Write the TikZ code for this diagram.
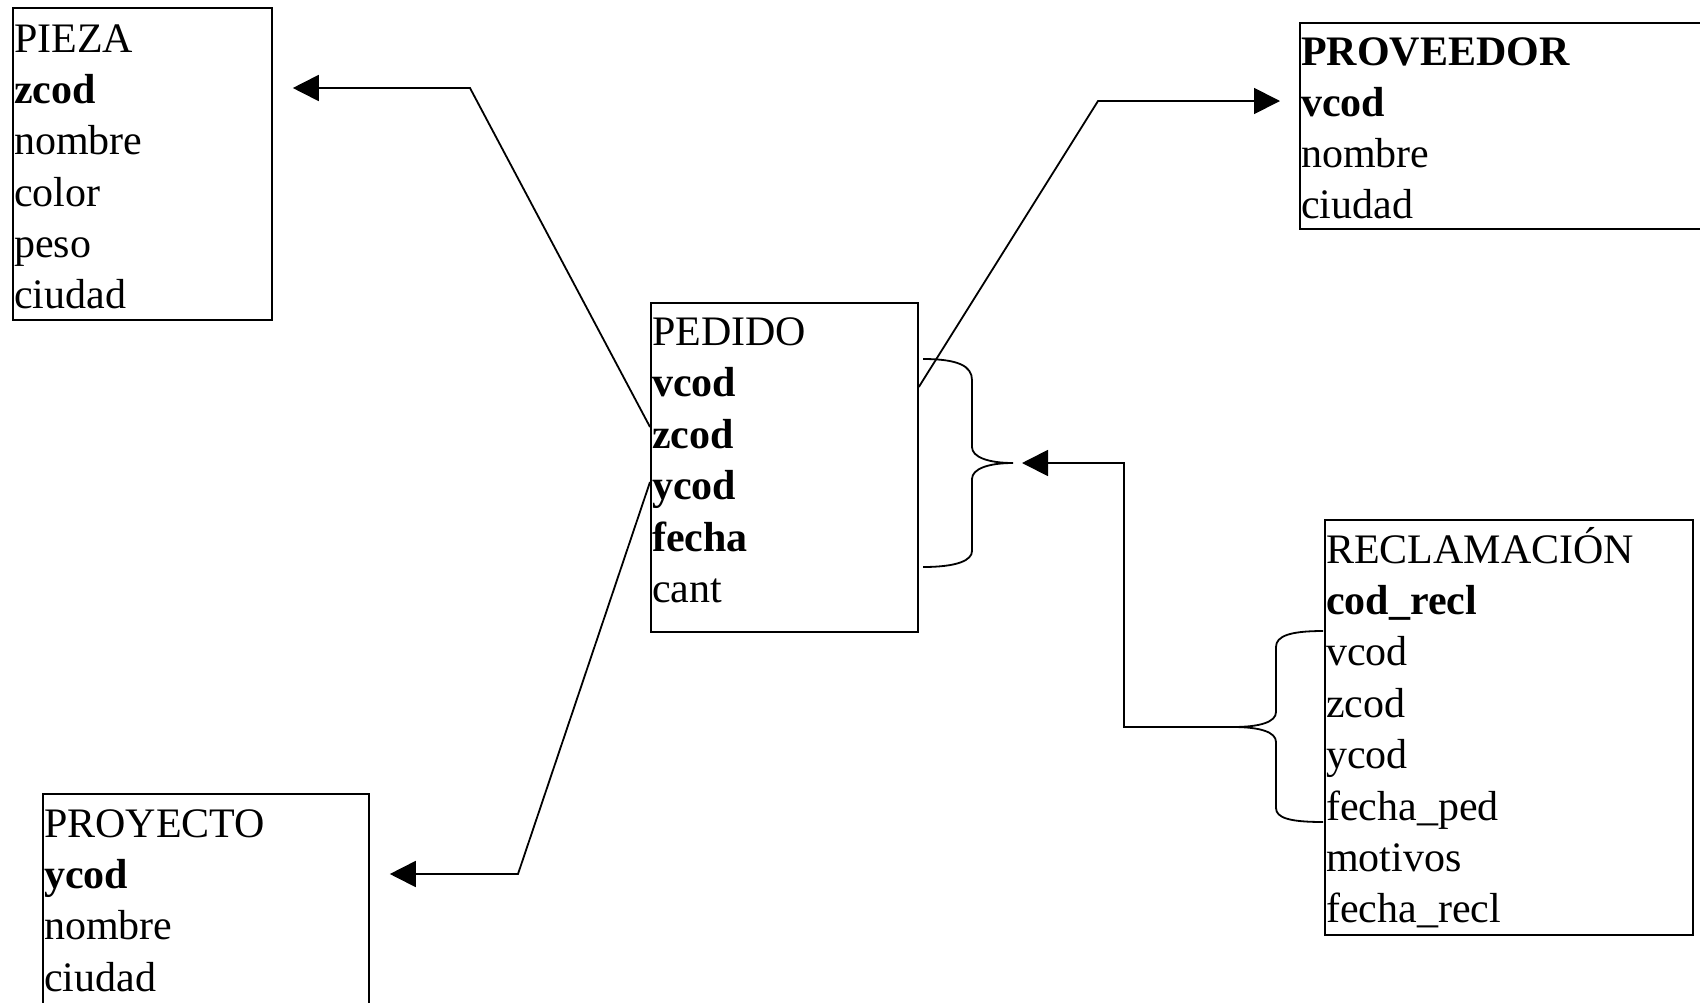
\documentclass[tikz,border=0pt]{standalone}
\usepackage{fontspec}
\setmainfont{Liberation Serif}
\usetikzlibrary{arrows.meta,calc}
\begin{document}
\begin{tikzpicture}[x=1pt,y=-1pt,
  box/.style={draw, line width=1.8pt, inner sep=0pt, anchor=north west},
  txt/.style={anchor=base west, inner sep=0pt, font=\fontsize{42}{51}\selectfont},
  conn/.style={line width=1.8pt},
  arr/.style={conn, -{Triangle[length=26pt,width=26pt]}}]
\clip (0,0) rectangle (1700,1002);
\fill[white] (0,0) rectangle (1700,1002);

% boxes
\node[box, minimum width=259pt, minimum height=312pt] (pieza) at (12,7) {};
\node[box, minimum width=267pt, minimum height=329pt] (pedido) at (650,302) {};
\node[box, minimum width=420pt, minimum height=206pt] (proveedor) at (1299,22) {};
\node[box, minimum width=326pt, minimum height=240pt] (proyecto) at (42,793) {};
\node[box, minimum width=368pt, minimum height=415pt] (recl) at (1324,519) {};

% texts
\foreach \t [count=\i from 0] in {PIEZA,\textbf{zcod},nombre,color,peso,ciudad}
  \node[txt] (pieza-t\i) at (14,{52+51.35*\i}) {\t};
\foreach \t [count=\i from 0] in {PEDIDO,\textbf{vcod},\textbf{zcod},\textbf{ycod},\textbf{fecha},cant}
  \node[txt] (pedido-t\i) at (652,{345+51.5*\i}) {\t};
\foreach \t [count=\i from 0] in {\textbf{PROVEEDOR},\textbf{vcod},nombre,ciudad}
  \node[txt] (proveedor-t\i) at (1301,{65+51.2*\i}) {\t};
\foreach \t [count=\i from 0] in {PROYECTO,\textbf{ycod},nombre,ciudad}
  \node[txt] (proyecto-t\i) at (44,{837+51.4*\i}) {\t};
\foreach \t [count=\i from 0] in {RECLAMACIÓN,\textbf{cod\_recl},vcod,zcod,ycod,fecha\_ped,motivos,fecha\_recl}
  \node[txt] (recl-t\i) at (1326,{563+51.4*\i}) {\t};

% connectors
\coordinate (pzc) at (470,88);
\coordinate (pyc) at (518,874);
\coordinate (pvc) at (1098,101);
\draw[arr] ($(pedido.north west)+(0,125)$) -- (pzc) -- ($(pieza.north east)+(20,81)$);
\draw[arr] ($(pedido.north west)+(0,180)$) -- (pyc) -- ($(proyecto.north east)+(20,81)$);
\draw[arr] ($(pedido.north east)+(0,85)$) -- (pvc) -- ($(proveedor.north west)+(-19,79)$);

% braces
\coordinate (pbt) at (1013,463);
\coordinate (rbt) at (1233,727);
\draw[conn] (923,359) .. controls (958,359) and (972,366) .. (972,380)
  -- (972,447) .. controls (972,457) and (988,463) .. (pbt)
  .. controls (988,463) and (972,469) .. (972,479)
  -- (972,551) .. controls (972,560) and (958,567) .. (923,567);
\draw[conn] (1323,631) .. controls (1290,631) and (1276,636) .. (1276,647)
  -- (1276,712) .. controls (1276,722) and (1260,727) .. (rbt)
  .. controls (1260,727) and (1276,732) .. (1276,742)
  -- (1276,808) .. controls (1276,818) and (1290,822) .. (1323,822);
\draw[arr, shorten >=9pt] (rbt) -- ++(-109,0) |- (pbt);
\end{tikzpicture}
\end{document}
